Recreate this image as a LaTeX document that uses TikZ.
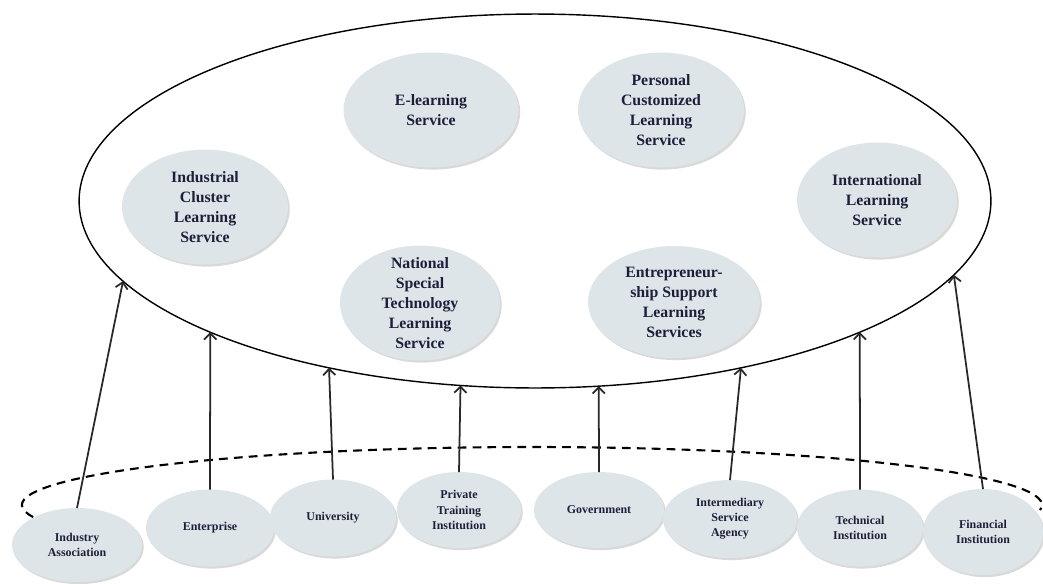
\documentclass[tikz,border=0pt]{standalone}
\usepackage{fontspec}
\setmainfont{Liberation Serif}
\usetikzlibrary{arrows.meta, shapes.geometric, shadows}
\definecolor{nodefill}{RGB}{221,229,232}
\definecolor{nodetext}{RGB}{30,30,58}
\definecolor{linecol}{RGB}{40,40,40}

\begin{document}
\begin{tikzpicture}[
        x=0.02cm, y=0.02cm,
        >={Straight Barb[length=3.5pt,width=7pt]},
        bubble/.style={
                ellipse, fill=nodefill, inner sep=0pt, outer sep=0pt,
                drop shadow={opacity=0.3, shadow xshift=1pt, shadow yshift=-1.2pt}
            },
        svctext/.style={
                align=center, text=nodetext,
                font=\fontsize{9}{11.4}\selectfont\bfseries
            },
        svc/.style={
                bubble, minimum width=3.32cm, minimum height=2.3cm,
                label={[svctext]center:#1}
            },
        org/.style={
                bubble, minimum width=2.56cm, minimum height=1.54cm,
                align=center, text=nodetext,
                font=\fontsize{6.8}{8.6}\selectfont\bfseries
            },
        ring/.style={
                ellipse, draw=black, line width=0.8pt, inner sep=0pt, outer sep=0pt,
                minimum width=18.24cm, minimum height=7.48cm
            },
        dashline/.style={draw=black, line width=1.2pt, dash pattern=on 5pt off 3.5pt},
        uparrow/.style={->, line width=1pt, draw=linecol}
    ]
    \useasboundingbox (0,0) rectangle (1043,583);

    % ===== Outer domain ellipse =====
    \node[ring] (domain) at (535,382) {};

    % ===== Learning services (inside) =====
    \node[svc={Industrial\\Cluster\\Learning\\Service}] (cluster) at (205,376) {};
    \node[svc={E-learning\\Service}, minimum width=3.5cm] (elearn) at (431,473) {};
    \node[svc={Personal\\Customized\\Learning\\Service}] (personal) at (661,473) {};
    \node[svc={International\\Learning\\Service}, minimum width=3.2cm] (intl) at (877,383) {};
    \node[svc={National\\Special\\Technology\\Learning\\Service}, minimum width=3.2cm] (national) at (420,280) {};
    \node[svc={Entrepreneur-\\ship Support\\Learning\\Services}, minimum width=3.44cm, minimum height=2.24cm] (entre) at (674,281) {};

    % ===== Dashed ring of providers =====
    \draw[dashline] (532,78) ++(192:510 and 58) arc[start angle=192, end angle=-5, x radius=510, y radius=58];

    % ===== Providers (bottom row) =====
    \node[org, minimum width=2.6cm, minimum height=1.48cm] (assoc) at (77,38) {Industry\\Association};
    \node[org] (enterprise) at (210,55) {Enterprise};
    \node[org, minimum width=2.52cm] (univ) at (333,65) {University};
    \node[org, minimum width=2.48cm, minimum height=1.52cm] (private) at (459,73) {Private\\Training\\Institution};
    \node[org, minimum width=2.6cm, minimum height=1.52cm] (gov) at (599,73) {Government};
    \node[org, minimum width=2.68cm, minimum height=1.56cm] (agency) at (730,64) {Intermediary\\Service\\Agency};
    \node[org, minimum width=2.52cm] (tech) at (860,55) {Technical\\Institution};
    \node[org, minimum width=2.4cm, minimum height=1.72cm] (finance) at (983,51) {Financial\\Institution};

    % ===== Arrows up to the domain =====
    \draw[uparrow] (assoc.north) -- (domain.191.1);
    \draw[uparrow] (enterprise.north) -- (domain.202.2);
    \draw[uparrow] (univ.north) -- (domain.219.9);
    \draw[uparrow] (private.north) -- (domain.248.1);
    \draw[uparrow] (gov.north) -- (domain.289.4);
    \draw[uparrow] (agency.north) -- (domain.321.1);
    \draw[uparrow] (tech.north) -- (domain.338.0);
    \draw[uparrow] (finance.north) -- (domain.350.5);

\end{tikzpicture}
\end{document}
